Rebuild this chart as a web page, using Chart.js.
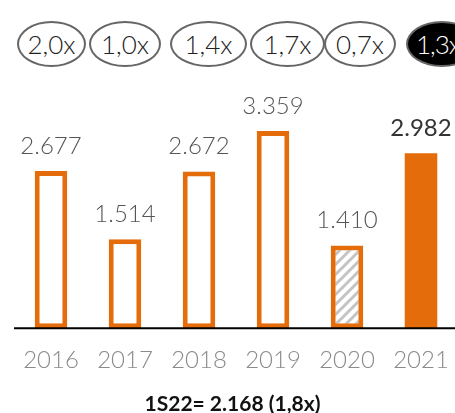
<!DOCTYPE html>
<html>
<head>
<meta charset="utf-8">
<script src="https://cdn.jsdelivr.net/npm/chart.js@4/dist/chart.umd.min.js"></script>
<style>
  html, body { margin: 0; padding: 0; background: #fff; overflow: hidden; width: 455px; height: 413px; }
  #wrap { position: absolute; left: 0; top: 0; width: 470px; height: 393px; }
  .badge {
    position: absolute; top: 21px; height: 46px; box-sizing: border-box;
    border: 2px solid #666; border-radius: 50%;
    display: flex; align-items: center; justify-content: center;
    font-family: Lato, sans-serif; font-weight: 300; font-size: 26px; color: #222;
  }
  .badge.dark { background: #000; color: #fff; justify-content: flex-start; padding-left: 8px; letter-spacing: -1px; }
  #foot {
    position: absolute; left: 5px; top: 390px; width: 455px; text-align: center;
    font-family: Lato, sans-serif; font-weight: 700; font-size: 21px; color: #111;
  }
</style>
</head>
<body>
<div id="badges"></div>
<div id="wrap"><canvas id="myChart"></canvas></div>
<div id="foot">1S22= 2.168 (1,8x)</div>
<script>
// data
const years = ['2016', '2017', '2018', '2019', '2020', '2021'];
const values = [2677, 1514, 2672, 3359, 1410, 2982];
const valueLabels = ['2.677', '1.514', '2.672', '3.359', '1.410', '2.982'];
const multiples = ['2,0x', '1,0x', '1,4x', '1,7x', '0,7x', '1,3x'];

const orange = '#E46C0A';

// badges row
const badgeLeft = [17, 89, 170, 250, 324, 406];
const badgeWidth = [69, 72, 77, 75, 72, 72];
const badgesEl = document.getElementById('badges');
multiples.forEach((m, i) => {
	const d = document.createElement('div');
	d.className = 'badge' + (i === multiples.length - 1 ? ' dark' : '');
	d.style.left = badgeLeft[i] + 'px';
	d.style.width = badgeWidth[i] + 'px';
	d.textContent = m;
	badgesEl.appendChild(d);
});

// hatch pattern for 2020
const pc = document.createElement('canvas');
pc.width = 10; pc.height = 10;
const pctx = pc.getContext('2d');
pctx.fillStyle = '#fff';
pctx.fillRect(0, 0, 10, 10);
pctx.strokeStyle = '#c4c4c4';
pctx.lineWidth = 3;
pctx.beginPath();
pctx.moveTo(-2, 12); pctx.lineTo(12, -2);
pctx.moveTo(-7, 7); pctx.lineTo(7, -7);
pctx.moveTo(3, 17); pctx.lineTo(17, 3);
pctx.stroke();
const hatch = pctx.createPattern(pc, 'repeat');

const fills = ['#fff', '#fff', '#fff', '#fff', hatch, orange];
const borders = [5, 5, 5, 5, 5, 0];

const labelPlugin = {
	id: 'labels',
	afterDatasetsDraw(chart) {
		const ctx = chart.ctx;
		const area = chart.chartArea;
		ctx.save();
		ctx.strokeStyle = '#000';
		ctx.lineWidth = 2;
		ctx.beginPath();
		ctx.moveTo(area.left, area.bottom);
		ctx.lineTo(chart.width, area.bottom);
		ctx.stroke();
		const meta = chart.getDatasetMeta(0);
		ctx.textAlign = 'center';
		ctx.textBaseline = 'middle';
		meta.data.forEach((bar, i) => {
			const last = i === values.length - 1;
			ctx.font = (last ? '400 ' : '300 ') + '24px Lato, sans-serif';
			ctx.fillStyle = last ? '#333' : '#555';
			ctx.fillText(valueLabels[i], bar.x, bar.y - 25);
		});
		ctx.restore();
	}
};

new Chart(document.getElementById('myChart'), {
	type: 'bar',
	data: {
		labels: years,
		datasets: [{
			data: values,
			backgroundColor: fills,
			borderColor: orange,
			borderWidth: borders,
			borderSkipped: false,
			categoryPercentage: 1,
			barPercentage: 0.44
		}]
	},
	options: {
		responsive: true,
		maintainAspectRatio: false,
		animation: false,
		layout: { padding: { left: 14, right: 12, top: 80, bottom: 0 } },
		scales: {
			x: {
				grid: { display: false, drawTicks: false },
				border: { display: false },
				ticks: {
					padding: 18,
					color: '#8a8a8a',
					font: { family: 'Lato', weight: 300, size: 24 }
				}
			},
			y: {
				display: false,
				min: 0,
				max: 4230
			}
		},
		plugins: {
			legend: { display: false },
			tooltip: { enabled: false }
		}
	},
	plugins: [labelPlugin]
});
</script>
</body>
</html>
